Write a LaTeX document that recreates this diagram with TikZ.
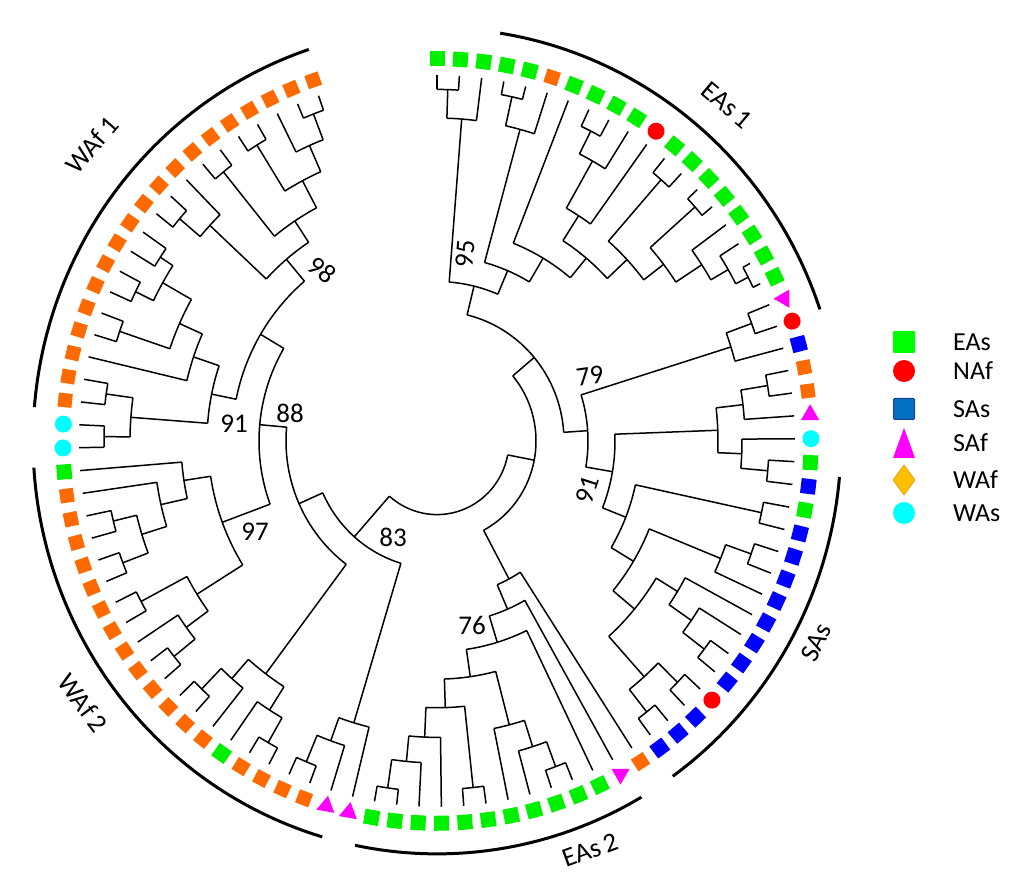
\documentclass[tikz,border=0pt]{standalone}
\usepackage{fontspec}
\setmainfont{Carlito}
\usetikzlibrary{shapes.geometric}
\definecolor{cG}{HTML}{00F000}
\definecolor{cO}{HTML}{FF6A00}
\definecolor{cB}{HTML}{0000FF}
\definecolor{cR}{HTML}{FF0000}
\definecolor{cP}{HTML}{FF00FF}
\definecolor{cC}{HTML}{00FFFF}
\definecolor{lgG}{HTML}{00FF00}
\definecolor{lgB}{HTML}{0070C0}
\definecolor{lgBd}{HTML}{203F8F}
\definecolor{lgO}{HTML}{FFC000}
\definecolor{lgOd}{HTML}{F0A020}
\makeatletter
% leaf: index, type (radially rotated marker)
\newcommand\lf[2]{%
  \pgfmathsetmacro\la{90-3.586*#1}%
  \expandafter\xdef\csname ta@L#1\endcsname{\la}%
  \expandafter\xdef\csname tr@L#1\endcsname{358}%
  \coordinate (L#1) at (\la:358);
  \edef\lfnext{\noexpand\node[mk#2, rotate=\la] (M#1) at (\la:374) {};}%
  \lfnext
}
% triangle leaf: index, apex direction
\newcommand\lfp[2]{%
  \pgfmathsetmacro\la{90-3.586*#1}%
  \expandafter\xdef\csname ta@L#1\endcsname{\la}%
  \expandafter\xdef\csname tr@L#1\endcsname{358}%
  \coordinate (L#1) at (\la:358);
  \node[mkP, rotate=#2-90] (M#1) at (\la:374) {};
}
% internal node: name, radius, children
\newcommand\tn[3]{%
  \gdef\tn@max{-9999}\gdef\tn@min{9999}%
  \foreach \ch in {#3}{%
    \edef\tn@a{\csname ta@\ch\endcsname}%
    \draw[br] (\tn@a:#2) -- (\ch);
    \pgfmathparse{max(\tn@max,\tn@a)}\xdef\tn@max{\pgfmathresult}%
    \pgfmathparse{min(\tn@min,\tn@a)}\xdef\tn@min{\pgfmathresult}%
  }%
  \draw[br] (\tn@max:#2) arc[start angle=\tn@max, end angle=\tn@min, radius=#2pt];
  \pgfmathsetmacro\tn@m{(\tn@max+\tn@min)/2}%
  \expandafter\xdef\csname ta@#1\endcsname{\tn@m}%
  \expandafter\xdef\csname tr@#1\endcsname{#2}%
  \coordinate (#1) at (\tn@m:#2);
}
\makeatother
\begin{document}
\begin{tikzpicture}[x=1pt,y=1pt,
  br/.style={line width=1.5pt, line join=round, black},
  clade/.style={line width=3pt, black},
  mkG/.style={rectangle, fill=cG, minimum size=15pt, inner sep=0pt},
  mkO/.style={rectangle, fill=cO, minimum size=14pt, inner sep=0pt},
  mkB/.style={rectangle, fill=cB, minimum size=15pt, inner sep=0pt},
  mkR/.style={circle, fill=cR, minimum size=17pt, inner sep=0pt},
  mkC/.style={circle, fill=cC, minimum size=17pt, inner sep=0pt},
  mkP/.style={regular polygon, regular polygon sides=3, fill=cP, minimum size=21pt, inner sep=0pt},
  bs/.style={font=\fontsize{27}{29}\selectfont, inner sep=1pt},
  cl/.style={font=\fontsize{27}{30}\selectfont, inner sep=1pt},
  lg/.style={font=\fontsize{26}{28}\selectfont, anchor=west, inner sep=0pt}]
\useasboundingbox (-437,-452) rectangle (587,441);
\begin{scope}[yscale=1.022]
% ---------- leaves ----------
\foreach \i/\t in {0/G,1/G,2/G,3/G,4/G,5/O,6/G,7/G,8/G,9/G,10/R,11/G,12/G,13/G,14/G,15/G,16/G,17/G,18/G,
  20/R,21/B,22/O,23/O,25/C,26/G,27/B,28/G,29/B,30/B,31/B,32/B,33/B,34/B,35/B,36/B,37/R,38/B,39/B,40/B,41/O,
  43/G,44/G,45/G,46/G,47/G,48/G,49/G,50/G,51/G,52/G,53/G,
  56/O,57/O,58/O,59/O,60/G,61/O,62/O,63/O,64/O,65/O,66/O,67/O,68/O,69/O,70/O,71/O,72/O,73/O,74/G,75/C,76/C,
  77/O,78/O,79/O,80/O,81/O,82/O,83/O,84/O,85/O,86/O,87/O,88/O,89/O,90/O,91/O,92/O,93/O,94/O,95/O}{\lf{\i}{\t}}
\lfp{19}{60}
\lfp{24}{90}
\lfp{42}{-90}
\lfp{54}{200}
\lfp{55}{200}
% ---------- EAs 1 ----------
\tn{a1}{344}{L0,L1}
\tn{a2}{316}{a1,L2}
\tn{a3}{345}{L3,L4}
\tn{a4}{316}{a3,L5}
\tn{a5}{340}{L7,L8}
\tn{a6}{315}{a5,L9}
\tn{a7}{262}{a6,L10}
\tn{a8}{340}{L11,L12}
\tn{a9}{345}{L13,L14}
\tn{a10}{350}{L17,L18}
\tn{a11}{336}{L16,a10}
\tn{a12}{316}{L15,a11}
\tn{a13}{285}{a9,a12}
\tn{a14}{260}{a8,a13}
\tn{a15}{233}{a7,a14}
\tn{a16}{208}{L6,a15}
\tn{a17}{181}{a4,a16}
\tn{a18}{156}{a2,a17}
% ---------- right / SAs ----------
\tn{b1}{335}{L19,L20}
\tn{b2}{308}{b1,L21}
\tn{b3}{335}{L22,L23}
\tn{b4}{308}{b3,L24}
\tn{b5}{332}{L26,L27}
\tn{b6}{305}{L25,b5}
\tn{b7}{281}{b4,b6}
\tn{b8}{332}{L28,L29}
\tn{b9}{333}{L30,L31}
\tn{b10}{306}{b9,L32}
\tn{b11}{336}{L35,L36}
\tn{b12}{309}{L34,b11}
\tn{b13}{282}{L33,b12}
\tn{b14}{337}{L37,L38}
\tn{b15}{338}{L39,L40}
\tn{b16}{310}{b14,b15}
\tn{b17}{257}{b13,b16}
\tn{b18}{229}{b10,b17}
\tn{b19}{203}{b8,b18}
\tn{b20}{178}{b7,b19}
\tn{b21}{151}{b2,b20}
\tn{b22}{127}{a18,b21}
% ---------- EAs 2 ----------
\tn{c1}{340}{L44,L45}
\tn{c2}{314}{L46,c1}
\tn{c3}{287}{L47,c2}
\tn{c4}{341}{L48,L49}
\tn{c5}{343}{L52,L53}
\tn{c6}{315}{L51,c5}
\tn{c7}{290}{L50,c6}
\tn{c8}{261}{c7,c4}
\tn{c9}{233}{c8,c3}
\tn{c10}{206}{c9,L43}
\tn{c11}{179}{c10,L42}
\tn{c12}{153}{c11,L41}
\tn{c13}{99}{b22,c12}
% ---------- WAf 2 ----------
\tn{d1}{340}{L56,L57}
\tn{d2}{312}{L55,d1}
\tn{d3}{288}{L54,d2}
\tn{d4}{340}{L58,L59}
\tn{d5}{312}{L60,d4}
\tn{d6}{338}{L62,L63}
\tn{d7}{310}{L61,d6}
\tn{d8}{285}{d7,d5}
\tn{d9}{337}{L64,L65}
\tn{d10}{310}{L66,d9}
\tn{d11}{335}{L67,L68}
\tn{d12}{283}{d11,d10}
\tn{d13}{336}{L69,L70}
\tn{d14}{333}{L71,L72}
\tn{d15}{309}{d14,d13}
\tn{d16}{283}{L73,d15}
\tn{d17}{256}{L74,d16}
\tn{d18}{229}{d17,d12}
% ---------- WAf 1 ----------
\tn{e1}{333}{L75,L76}
\tn{e2}{334}{L77,L78}
\tn{e3}{307}{e1,e2}
\tn{e4}{335}{L80,L81}
\tn{e5}{335}{L82,L83}
\tn{e6}{330}{L84,L85}
\tn{e7}{315}{e5,e6}
\tn{e8}{282}{e4,e7}
\tn{e9}{257}{L79,e8}
\tn{e10}{230}{e3,e9}
\tn{e11}{337}{L86,L87}
\tn{e12}{310}{e11,L88}
\tn{e13}{339}{L89,L90}
\tn{e14}{341}{L91,L92}
\tn{e15}{343}{L94,L95}
\tn{e16}{316}{L93,e15}
\tn{e17}{288}{e14,e16}
\tn{e18}{258}{e13,e17}
\tn{e19}{233}{e12,e18}
\tn{e20}{205}{e10,e19}
\tn{e21}{178}{e20,d18}
\tn{e22}{151}{e21,d8}
\tn{e23}{125}{e22,d3}
\tn{root}{72}{e23,c13}
% ---------- clade arcs ----------
\draw[clade] (81:404) arc[start angle=81, end angle=18.6, radius=404pt];
\draw[clade] (-5:404) arc[start angle=-5, end angle=-54.3, radius=404pt];
\draw[clade] (-59.6:404) arc[start angle=-59.6, end angle=-101.7, radius=404pt];
\draw[clade] (-106.5:404) arc[start angle=-106.5, end angle=-176.3, radius=404pt];
\draw[clade] (-184.7:404) arc[start angle=-184.7, end angle=-251.5, radius=404pt];
\end{scope}
% ---------- bootstrap values ----------
\node[bs, rotate=85] (bs95) at (28,187) {95};
\node[bs, rotate=8] (bs79) at (153,65) {79};
\node[bs, rotate=72] (bs91r) at (150,-49) {91};
\node[bs] (bs76) at (35,-184) {76};
\node[bs] (bs83) at (-44,-96) {83};
\node[bs] (bs97) at (-182,-91) {97};
\node[bs] (bs91l) at (-203,17) {91};
\node[bs] (bs88) at (-147,28) {88};
\node[bs, rotate=-40] (bs98) at (-115,171) {98};
% ---------- clade labels ----------
\node[cl, rotate=-40] (lEAs1) at (290,336) {EAs\,1};
\node[cl, rotate=49] (lWAf1) at (-345,296) {WAf\,1};
\node[cl, rotate=-53] (lWAf2) at (-354,-262) {WAf\,2};
\node[cl, rotate=63] (lSAs) at (379,-201) {SAs};
\node[cl, rotate=20] (lEAs2) at (153,-409) {EAs\,2};
% ---------- legend ----------
\node[rectangle, fill=lgG, minimum size=22pt, inner sep=0pt, rounded corners=1pt] (kG) at (467,99) {};
\node[circle, fill=cR, minimum size=22pt, inner sep=0pt] (kR) at (467,70) {};
\node[rectangle, fill=lgB, draw=lgBd, line width=1pt, minimum size=21pt, inner sep=0pt, rounded corners=1pt] (kB) at (467,32) {};
\fill[cP] (456,-17) -- (478,-17) -- (467,13) -- cycle;
\fill[lgO, draw=lgOd, line width=0.8pt] (467,-54) -- (478,-39) -- (467,-24) -- (456,-39) -- cycle;
\node[circle, fill=cC, minimum size=22pt, inner sep=0pt] (kC) at (467,-72) {};
\node[lg] (tG) at (516,99) {EAs};
\node[lg] (tR) at (516,70) {NAf};
\node[lg] (tB) at (516,32) {SAs};
\node[lg] (tP) at (516,-2) {SAf};
\node[lg] (tO) at (516,-39) {WAf};
\node[lg] (tC) at (516,-72) {WAs};
\end{tikzpicture}
\end{document}
